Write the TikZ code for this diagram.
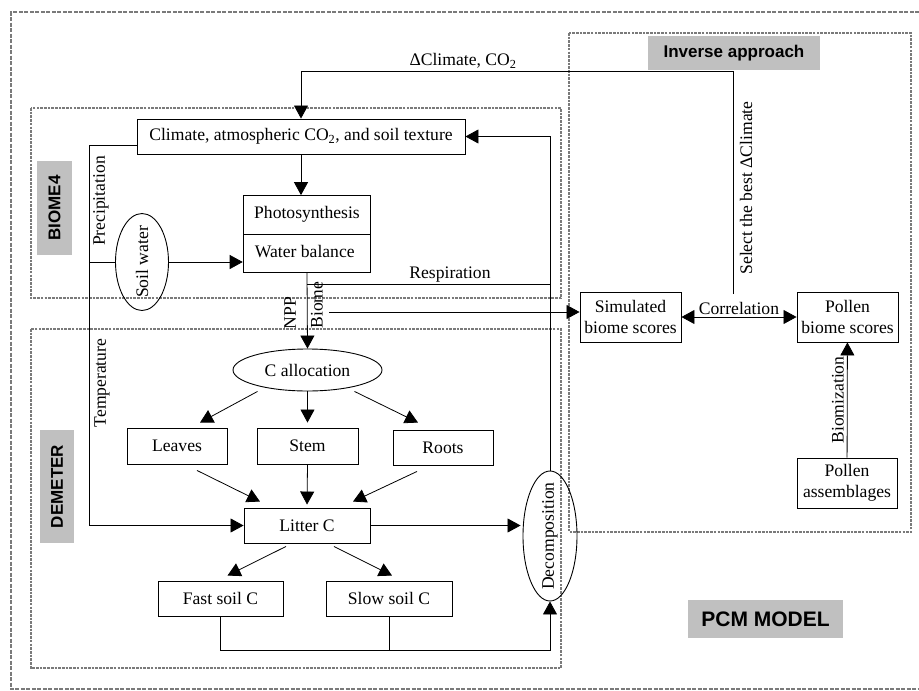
\documentclass[tikz,border=0pt]{standalone}
\usepackage{fontspec}
\setmainfont{Liberation Serif}
\setsansfont{Liberation Sans}
\usepackage{tikz}
\usetikzlibrary{positioning,shapes,arrows.meta}
\definecolor{zonegray}{HTML}{7A7A7A}
\definecolor{taggray}{HTML}{C0C0C0}
\tikzstyle{block}=[rectangle, draw=black, line width=0.9pt, align=center, inner sep=0pt]
\tikzstyle{oval}=[ellipse, draw=black, line width=0.9pt, inner sep=0pt]
\tikzstyle{tag}=[rectangle, fill=taggray, font=\fontsize{17}{20}\sffamily\bfseries, inner sep=0pt]
\tikzstyle{zone}=[draw=zonegray, line width=2.8pt, dash pattern=on 2.6pt off 1.1pt]
\tikzstyle{frame}=[draw=zonegray, line width=2.6pt, dash pattern=on 4pt off 1.5pt]
\tikzstyle{arr}=[-{Triangle[length=13pt,width=14pt]}, line width=0.8pt]
\tikzstyle{link}=[line width=0.8pt]

\begin{document}
\begin{tikzpicture}[x=1pt, y=-1pt, font=\fontsize{17.6}{20.5}\selectfont]
  \useasboundingbox (0,0) rectangle (919,691);
  % frames
  \draw[frame] (919,12) -- (11,12) -- (11,689) -- (919,689);
  \draw[zone] (31,108) rectangle (561,298);
  \draw[zone] (31,329) rectangle (561,668);
  \draw[zone] (569,33) rectangle (911,532);

  % frame labels
  \node (biometag) [tag, rotate=90, minimum width=94pt, minimum height=35pt] at (54.5,208) {BIOME4};
  \node (demetertag) [tag, rotate=90, minimum width=113pt, minimum height=34pt] at (57,486.5) {DEMETER};
  \node (invtag) [tag, minimum width=172pt, minimum height=34pt] at (734,53) {Inverse approach};
  \node (pcmtag) [tag, minimum width=155pt, minimum height=38pt, font=\fontsize{21}{24}\sffamily\bfseries] at (765.5,619) {PCM MODEL};

  % BIOME4
  \node (climate) [block, minimum width=328pt, minimum height=35pt] at (301,136.5)
    {Climate, atmospheric CO\textsubscript{2}, and soil texture};
  \node (photo) [block, rectangle split, rectangle split parts=2, inner xsep=11pt, inner ysep=8.5pt] at (307,234)
    {
      \strut Photosynthesis
      \nodepart{second}\strut Water balance
    };
  \node (soil) [oval, minimum width=53pt, minimum height=97pt] at (142,262) {};
  \node (soiltxt) [rotate=90] at (soil) {Soil water};

  % DEMETER
  \node (calloc) [oval, minimum width=149pt, minimum height=42pt] at (307.5,370) {C allocation};
  \node (leaves) [block, minimum width=100pt, minimum height=36pt] at (177,446) {Leaves};
  \node (stem) [block, minimum width=101pt, minimum height=36pt] at (307.5,446) {Stem};
  \node (roots) [block, minimum width=100pt, minimum height=35pt] at (443,447.5) {Roots};
  \node (litter) [block, minimum width=126pt, minimum height=35pt] at (307,525.5) {Litter C};
  \node (fast) [block, minimum width=125pt, minimum height=35pt] at (220.5,598.5) {Fast soil C};
  \node (slow) [block, minimum width=126pt, minimum height=35pt] at (389,598.5) {Slow soil C};
  \node (decomp) [oval, minimum width=54pt, minimum height=130pt] at (550,536) {};
  \node (decomptxt) [rotate=90] at (decomp) {Decomposition};

  % inverse approach
  \node (sim) [block, minimum width=101pt, minimum height=50pt] at (630.5,317) {Simulated\\biome scores};
  \node (pollen) [block, minimum width=101pt, minimum height=50pt] at (847.5,317) {Pollen\\biome scores};
  \node (assem) [block, minimum width=100pt, minimum height=50pt] at (847,483) {Pollen\\assemblages};

  % line labels
  \node (dclim) at (463,61) {ΔClimate, CO\textsubscript{2}};
  \node (select) [rotate=90] at (746,188) {Select the best ΔClimate};
  \node (resp) at (450,275) {Respiration};
  \node (npp) [rotate=90] at (290,313) {NPP};
  \node (biome) [rotate=90] at (317,305) {Biome};
  \node (precip) [rotate=90] at (101,201) {Precipitation};
  \node (temp) [rotate=90] at (102,383) {Temperature};

  % connectors
  \coordinate (selfoot) at (733,294);
  \coordinate (selturn) at (733,71);
  \draw[arr] (selfoot) -- (selturn) -| (climate.north);
  \draw[arr] (climate.south) -- (climate.south |- photo.north);
  \draw[arr] (decomp.north) |- (climate.east);
  \coordinate (respstart) at (307,284);
  \draw[link] (respstart) -- (respstart -| decomp.north);
  \draw[arr] (photo.south) -- (calloc.north);
  \coordinate (biomeout) at (329,312);
  \draw[arr] (biomeout) -- (biomeout -| sim.west);
  \draw[arr] (soil.east) -- (soil.east -| photo.west);
  \coordinate (pcol) at (89,0);
  \draw[arr] ([yshift=-8.5pt]climate.west) -| (pcol |- litter.west) -- (litter.west);
  \draw[link] (soil.west -| pcol) -- (soil.west);

  \draw[arr] ([xshift=-50pt]calloc.south) -- ([xshift=23pt,yshift=5pt]leaves.north);
  \draw[arr, shorten >=5pt] (calloc.south) -- (stem.north);
  \draw[arr] ([xshift=47pt]calloc.south) -- ([xshift=-25pt,yshift=7pt]roots.north);
  \draw[arr] ([xshift=20pt,yshift=-6pt]leaves.south) -- ([xshift=-47pt,yshift=6pt]litter.north);
  \draw[arr, shorten >=3pt] (stem.south) -- (litter.north);
  \draw[arr] ([xshift=-26pt,yshift=-6pt]roots.south) -- ([xshift=46pt,yshift=6pt]litter.north);
  \draw[arr] ([xshift=-21pt,yshift=-3pt]litter.south) -- ([xshift=7pt,yshift=5pt]fast.north);
  \draw[arr] ([xshift=27pt,yshift=-3pt]litter.south) -- ([xshift=3pt,yshift=5pt]slow.north);
  \draw[arr, shorten >=2pt] (litter.east) -- (litter.east -| decomp.west);
  \draw[arr] (fast.south) -- ++(0,34) -| (decomp.south);
  \draw[link] (slow.south) -- ++(0,34);

  \draw[{Triangle[length=13pt,width=14pt]}-{Triangle[length=13pt,width=14pt]}, line width=0.8pt]
    (sim) -- node (corr) [above=-1pt] {Correlation} (pollen);
  \draw[arr] (assem) -- (pollen);
  \node (biomiz) [rotate=90] at (838,400) {Biomization};
\end{tikzpicture}
\end{document}
